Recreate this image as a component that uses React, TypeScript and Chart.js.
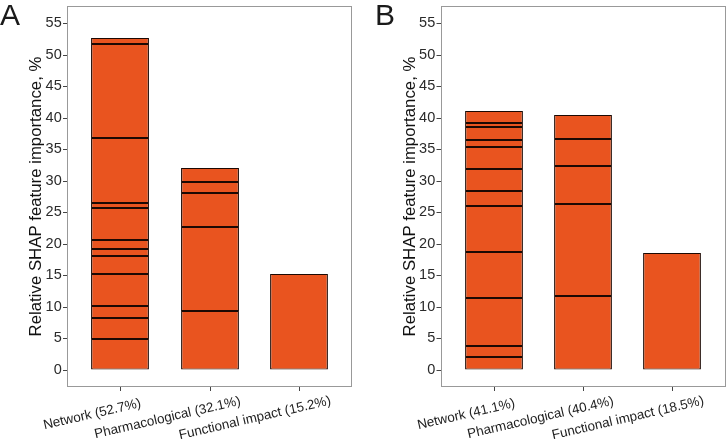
import React, { useEffect, useRef } from "react";
import { Chart, registerables } from "chart.js";

Chart.register(...registerables);

// ---------- data ----------
const categoriesA = ["Network (52.7%)", "Pharmacological (32.1%)", "Functional impact (15.2%)"];
const networkSegmentsA = [4.88, 3.4, 1.91, 4.94, 2.87, 1.22, 1.33, 5.2, 0.74, 10.3, 14.97, 0.94];
const pharmacologicalSegmentsA = [9.34, 13.38, 5.26, 1.86, 2.26];
const functionalSegmentsA = [15.2];

const categoriesB = ["Network (41.1%)", "Pharmacological (40.4%)", "Functional impact (18.5%)"];
const networkSegmentsB = [2.07, 1.75, 7.59, 7.22, 7.44, 2.23, 3.55, 3.51, 1.06, 2.18, 0.63, 1.87];
const pharmacologicalSegmentsB = [11.73, 14.55, 6.05, 4.3, 3.77];
const functionalSegmentsB = [18.5];

const yTickValues = [0, 5, 10, 15, 20, 25, 30, 35, 40, 45, 50, 55];
const yTitle = "Relative SHAP feature importance, %";

// ---------- style ----------
const FONT = '"Liberation Sans", Arial, Helvetica, sans-serif';
const FILL = "#E9541F";
const EDGE = "#1c0903";
const Y_MIN = -2.75;
const Y_MAX = 57.75;
const X_MIN = -0.6;
const X_MAX = 2.6;

function buildDatasets(segmentsByCategory: number[][]) {
  const n = Math.max(...segmentsByCategory.map((s) => s.length));
  const ds: any[] = [];
  for (let i = 0; i < n; i++) {
    const data: { x: number; y: number }[] = [];
    segmentsByCategory.forEach((segs, c) => {
      if (i < segs.length) data.push({ x: c, y: segs[i] });
    });
    ds.push({
      data,
      backgroundColor: FILL,
      borderColor: EDGE,
      borderWidth: { top: 0.95, bottom: 0.95, left: 1.3, right: 1.3 },
      borderSkipped: false,
      barPercentage: 0.65,
      categoryPercentage: 1,
    });
  }
  return ds;
}

function makePanelPlugin(letter: string, letterX: number, labels: string[]) {
  return {
    id: "panel" + letter,
    afterDraw(chart: any) {
      const { ctx, chartArea } = chart;
      ctx.save();
      ctx.strokeStyle = "#999999";
      ctx.lineWidth = 1;
      ctx.strokeRect(
        Math.round(chartArea.left) + 0.5,
        Math.round(chartArea.top) + 0.5,
        Math.round(chartArea.right - chartArea.left) - 1,
        Math.round(chartArea.bottom - chartArea.top) - 1
      );
      // panel letter
      ctx.fillStyle = "#1a1a1a";
      ctx.font = `30px ${FONT}`;
      ctx.textAlign = "left";
      ctx.textBaseline = "alphabetic";
      ctx.fillText(letter, letterX, 25);
      // rotated category labels
      const xs = chart.scales.x;
      ctx.font = `13.4px ${FONT}`;
      ctx.fillStyle = "#222222";
      labels.forEach((label, i) => {
        const px = xs.getPixelForValue(i);
        const w = ctx.measureText(label).width;
        ctx.save();
        ctx.translate(px, chartArea.bottom + 15);
        ctx.rotate((-13 * Math.PI) / 180);
        ctx.textAlign = "left";
        ctx.textBaseline = "alphabetic";
        ctx.fillText(label, -0.8 * w, 9.6);
        ctx.restore();
      });
      ctx.restore();
    },
  };
}

type PanelProps = {
  left: number;
  letter: string;
  letterX: number;
  categories: string[];
  segments: number[][];
  axisWidth: number;
  rightPad: number;
  titlePad: number;
};

function Panel(props: PanelProps) {
  const ref = useRef<HTMLCanvasElement>(null);
  useEffect(() => {
    if (!ref.current) return;
    const { categories, segments, axisWidth, rightPad, titlePad, letter, letterX } = props;
    const chart = new Chart(ref.current, {
      type: "bar",
      data: { datasets: buildDatasets(segments) },
      options: {
        responsive: false,
        animation: false,
        devicePixelRatio: 1,
        layout: { padding: { left: 0, right: rightPad, top: 6, bottom: 0 } },
        plugins: { legend: { display: false }, tooltip: { enabled: false } },
        scales: {
          x: {
            type: "linear",
            min: X_MIN,
            max: X_MAX,
            stacked: true,
            offset: false,
            alignToPixels: true,
            grid: {
              display: true,
              drawOnChartArea: false,
              drawTicks: true,
              tickLength: 4,
              color: "#444444",
              offset: false,
            },
            border: { display: false },
            ticks: { display: false },
            afterBuildTicks: (s: any) => {
              s.ticks = categories.map((_, i) => ({ value: i }));
            },
            afterFit: (s: any) => {
              s.height = 56;
              s.paddingLeft = 0;
              s.paddingRight = 0;
            },
          },
          y: {
            type: "linear",
            min: Y_MIN,
            max: Y_MAX,
            stacked: true,
            alignToPixels: true,
            grid: {
              drawOnChartArea: false,
              drawTicks: true,
              tickLength: 4,
              color: "#444444",
            },
            border: { display: false },
            ticks: { font: { family: FONT, size: 14.5 }, color: "#2a2a2a", padding: 1.3 },
            afterBuildTicks: (s: any) => {
              s.ticks = yTickValues.map((v) => ({ value: v }));
            },
            afterFit: (s: any) => {
              s.width = axisWidth;
              s.paddingTop = 0;
              s.paddingBottom = 0;
            },
            title: {
              display: true,
              text: yTitle,
              font: { family: FONT, size: 16.8 },
              color: "#111111",
              padding: { top: titlePad, bottom: 0 },
            },
          },
        },
      } as any,
      plugins: [makePanelPlugin(letter, letterX, categories)],
    });
    return () => chart.destroy();
  }, []);
  return (
    <div style={{ position: "absolute", left: props.left, top: 0, width: 363, height: 443 }}>
      <canvas ref={ref} width={363} height={443} />
    </div>
  );
}

export default function App() {
  return (
    <div
      style={{
        position: "fixed",
        left: 0,
        top: 0,
        width: 726,
        height: 443,
        background: "#ffffff",
      }}
    >
      <Panel
        left={0}
        letter="A"
        letterX={0}
        categories={categoriesA}
        segments={[networkSegmentsA, pharmacologicalSegmentsA, functionalSegmentsA]}
        axisWidth={67}
        rightPad={11}
        titlePad={26.4}
      />
      <Panel
        left={363}
        letter="B"
        letterX={12}
        categories={categoriesB}
        segments={[networkSegmentsB, pharmacologicalSegmentsB, functionalSegmentsB]}
        axisWidth={77.5}
        rightPad={0.5}
        titlePad={36.9}
      />
    </div>
  );
}
